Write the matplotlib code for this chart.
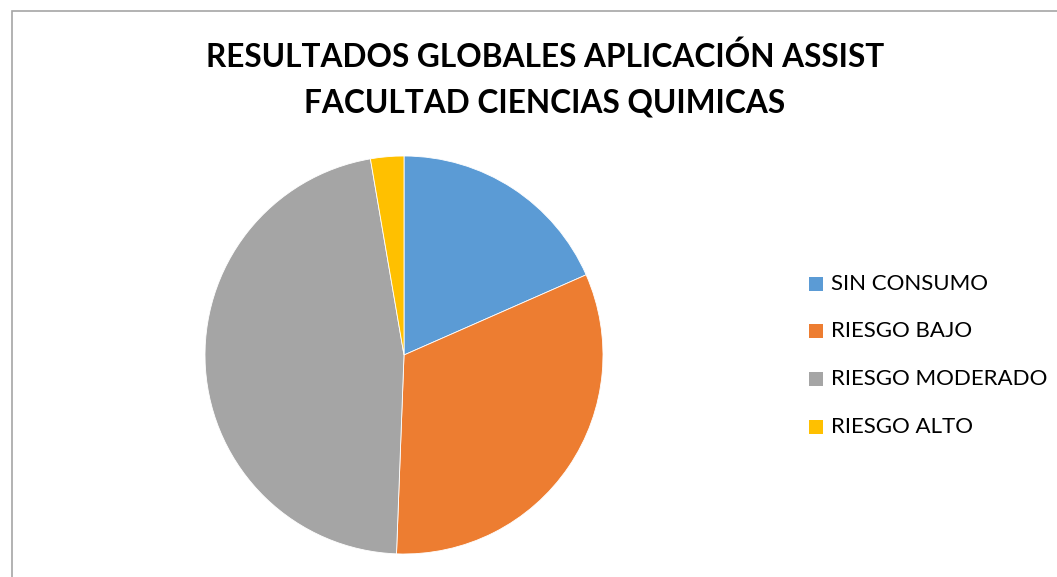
import matplotlib
matplotlib.use("Agg")
import matplotlib.pyplot as plt
from matplotlib.patches import Rectangle

categories = ["SIN CONSUMO", "RIESGO BAJO", "RIESGO MODERADO", "RIESGO ALTO"]
values = [18.4, 32.2, 46.7, 2.7]
colors = ["#5B9BD5", "#ED7D31", "#A5A5A5", "#FFC000"]
title_lines = ["RESULTADOS GLOBALES APLICACIÓN ASSIST", "FACULTAD CIENCIAS QUIMICAS"]

W, H = 1057, 577
fig = plt.figure(figsize=(W / 100, H / 100), dpi=100)
fig.patch.set_facecolor("white")

# chart border
fig.patches.append(Rectangle((12 / W, -0.1), 1.2, (H - 11) / H + 0.1,
                             transform=fig.transFigure, fill=False,
                             edgecolor="#A6A6A6", linewidth=1.2))

# pie axes: center (404,355), radius 199 px
cx, cy, r = 404, 355, 199
ax = fig.add_axes([(cx - r) / W, (H - cy - r) / H, 2 * r / W, 2 * r / H])
ax.pie(values, colors=colors, startangle=90, counterclock=False,
       wedgeprops=dict(edgecolor="white", linewidth=0.6))
ax.set_xlim(-1, 1)
ax.set_ylim(-1, 1)
ax.set_aspect("equal")
ax.axis("off")

font = "Lato"
fig.text(545 / W, 1 - 57 / H, title_lines[0], ha="center", va="center",
         fontsize=22.8, fontweight="bold", family=font, color="#000000")
fig.text(545 / W, 1 - 103 / H, title_lines[1], ha="center", va="center",
         fontsize=22.8, fontweight="bold", family=font, color="#000000")

ys = [284, 331, 379, 427]
for cat, col, y in zip(categories, colors, ys):
    fig.patches.append(Rectangle((809 / W, 1 - (y + 7) / H), 14 / W, 14 / H,
                                 transform=fig.transFigure, facecolor=col,
                                 edgecolor="none"))
    fig.text(831 / W, 1 - y / H, cat, ha="left", va="center",
             fontsize=16, family=font, color="#000000")

fig.savefig("out.png", dpi=100)
